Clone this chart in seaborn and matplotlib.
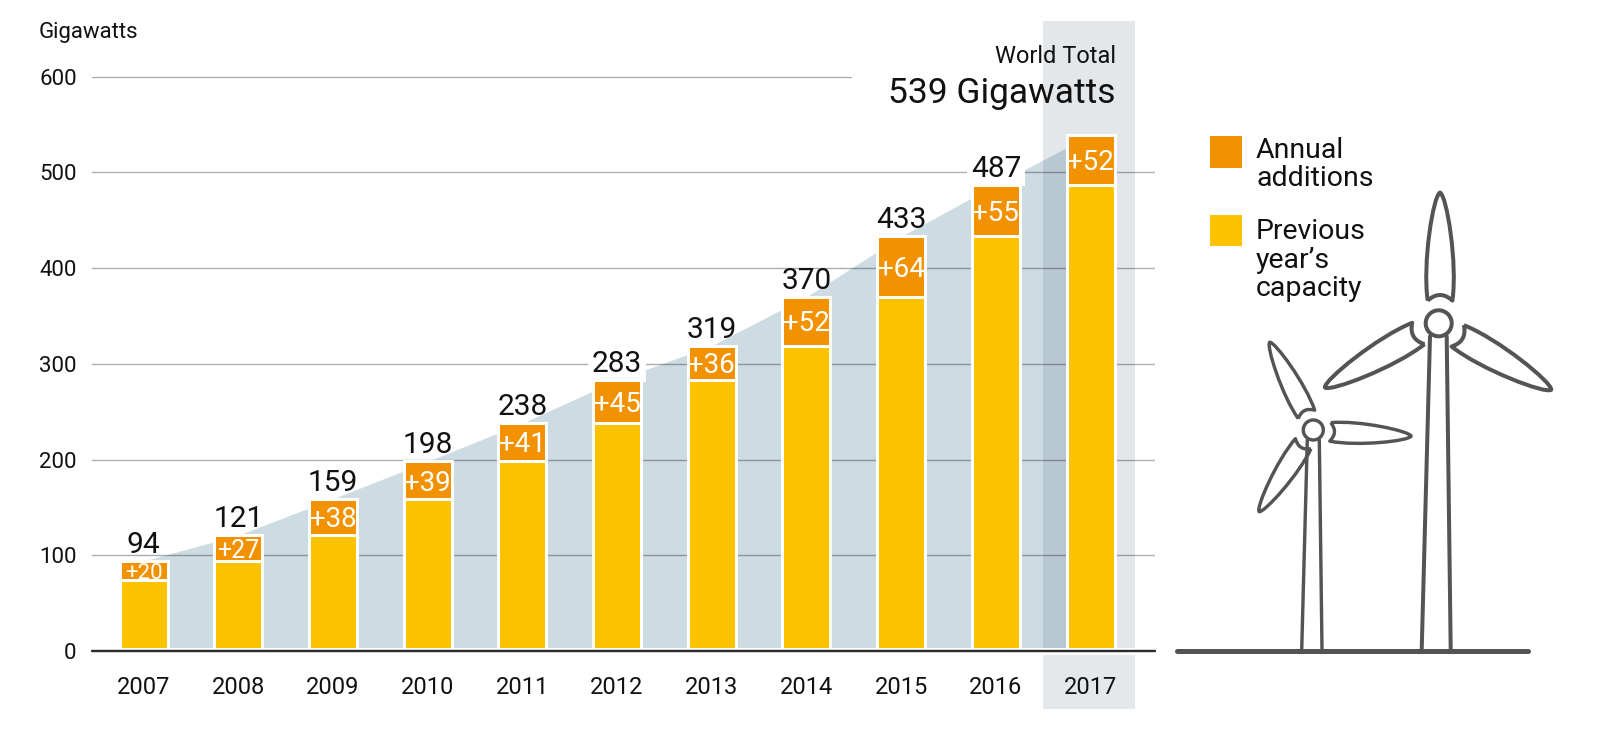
import numpy as np
import matplotlib
matplotlib.use('Agg')
import matplotlib.pyplot as plt
import seaborn as sns
from matplotlib.patches import Rectangle, Circle, PathPatch
from matplotlib.path import Path
from matplotlib.transforms import Affine2D

years = ['2007', '2008', '2009', '2010', '2011', '2012', '2013', '2014', '2015', '2016', '2017']
totals = [94, 121, 159, 198, 238, 283, 319, 370, 433, 487, 539]
previous = [74, 94, 121, 159, 198, 238, 283, 319, 370, 433, 487]
additions = [20, 27, 38, 39, 41, 45, 36, 52, 64, 55, 52]
y_ticks = [0, 100, 200, 300, 400, 500, 600]

ORANGE = '#F39200'
YELLOW = '#FDC300'
AREA = '#CDDBE3'
INK = '#111111'
TURBINE = '#555355'
W, H = 1621, 745
PX = 72 / 100  # one pixel in points

sns.set_theme(style='white')
plt.rcParams['font.family'] = ['Roboto', 'DejaVu Sans']

fig = plt.figure(figsize=(W / 100, H / 100), dpi=100)
ax = fig.add_axes([92 / W, (H - 651) / H, (1155 - 92) / W, 630 / H])

x = np.arange(len(years))

# stacked look: full total in orange, previous year's capacity over it
edge = dict(edgecolor='white', linewidth=3 * PX, width=0.507, saturation=1, zorder=3)
sns.barplot(x=years, y=totals, color=ORANGE, ax=ax, **edge)
sns.barplot(x=years, y=previous, color=YELLOW, ax=ax, **edge)

ax.fill_between(x, 0, totals, color=AREA, linewidth=0, zorder=1)

ax.set_xlim(-0.544, 10.68)
ax.set_ylim(0, 658)
ax.set_axisbelow(False)  # seaborn's style puts tick labels under the 2017 band otherwise

# 2017 highlight, above and below the axis line
ax.axvspan(9.5, 10.47, color='#3E5B70', alpha=0.14, linewidth=0, zorder=1.2)
ax.add_patch(Rectangle((9.5, -58 / 630), 0.97, 54 / 630, transform=ax.get_xaxis_transform(),
                       facecolor='#E4E8EB', linewidth=0, clip_on=False, zorder=1.2))

for tick in y_ticks[1:]:
    xmax = (851 - 92) / (1155 - 92) if tick == 600 else 1
    ax.axhline(tick, xmax=xmax, color='black', alpha=0.32, linewidth=1.4 * PX, zorder=2)

ax.axhline(0, color='white', linewidth=7 * PX, clip_on=False, zorder=3.2)
ax.axhline(0, color='#2B2B2B', linewidth=2.4 * PX, clip_on=False, zorder=3.5)

sns.despine(ax=ax, left=True, bottom=True, top=True, right=True)
ax.set_yticks(y_ticks)
ax.set_yticklabels([str(t) for t in y_ticks])
ax.tick_params(axis='y', length=0, pad=11, labelsize=16, labelcolor=INK)
ax.tick_params(axis='x', length=0, pad=18, labelsize=17, labelcolor=INK)

small_labels = {0: 16, 1: 18}
for i in x:
    ax.text(i, previous[i] + additions[i] / 2, f'+{additions[i]}', ha='center', va='center_baseline',
            color='white', fontsize=small_labels.get(i, 20), zorder=4)
    if i == len(years) - 1:
        continue  # 2017 total is the headline
    # only labels sitting on a gridline get a white mask
    on_grid = any(totals[i] + 8 < t < totals[i] + 30 for t in y_ticks)
    bbox = dict(facecolor='white', edgecolor='none', boxstyle='square,pad=0.12') if on_grid else None
    ax.annotate(str(totals[i]), (i, totals[i]), xytext=(0, 8 * PX), textcoords='offset points',
                ha='center', va='baseline', fontsize=21.5, color=INK, zorder=2.8, bbox=bbox)

# everything outside the chart, in image pixels
over = fig.add_axes([0, 0, 1, 1], zorder=5)
over.set_xlim(0, W)
over.set_ylim(H, 0)
over.axis('off')
over.patch.set_alpha(0)

over.text(39, 38, 'Gigawatts', fontsize=16, color=INK, va='baseline')
over.text(1116, 63, 'World Total', fontsize=17, color=INK, ha='right', va='baseline')
over.text(1116, 103, '539 Gigawatts', fontsize=25.5, color=INK, ha='right', va='baseline')

over.add_patch(Rectangle((1210, 136), 32, 32, facecolor=ORANGE, linewidth=0))
over.add_patch(Rectangle((1210, 215), 32, 31, facecolor=YELLOW, linewidth=0))
legend_text = dict(fontsize=20.5, color=INK, va='baseline', linespacing=1.06)
over.text(1256, 186, 'Annual\nadditions', **legend_text)
over.text(1256, 296, 'Previous\nyear\u2019s\ncapacity', **legend_text)

blade_path = Path(
    [(-11, -22.7), (1.3, -34), (13.7, -22.7),
     (19, -60), (8, -128), (1.3, -130.7),
     (-5.4, -128), (-16.4, -60), (-11, -22.7)],
    [Path.MOVETO, Path.CURVE3, Path.CURVE3,
     Path.CURVE4, Path.CURVE4, Path.CURVE4,
     Path.CURVE4, Path.CURVE4, Path.CURVE4])


def draw_turbine(hub, radius, scale, angles, left, right, lw):
    for angle in angles:
        tr = Affine2D().scale(scale).rotate_deg(angle).translate(*hub)
        over.add_patch(PathPatch(blade_path.transformed(tr), facecolor='none', edgecolor=TURBINE,
                                 linewidth=lw * PX, joinstyle='round'))
    over.add_patch(Circle(hub, radius, facecolor='white', edgecolor=TURBINE, linewidth=lw * PX))
    over.plot(*zip(*left), color=TURBINE, linewidth=lw * PX)
    over.plot(*zip(*right), color=TURBINE, linewidth=lw * PX)


draw_turbine((1438.7, 323.3), 13, 1, [0, 120, 240],
             [(1430, 336.5), (1421.7, 650)], [(1446.7, 336.5), (1450.7, 650)], 4)
draw_turbine((1313.3, 430), 10, 0.75, [-27, 93, 213],
             [(1307.3, 440), (1301.7, 650)], [(1319.3, 440), (1322, 650)], 3.4)

over.plot([1177, 1528], [651, 651], color=TURBINE, linewidth=5 * PX, solid_capstyle='round')

fig.savefig('out.png', dpi=100)
